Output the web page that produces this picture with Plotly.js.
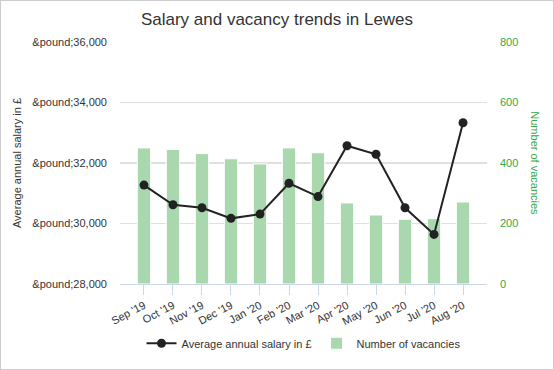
<!DOCTYPE html>
<html>
<head>
<meta charset="utf-8">
<script src="https://cdn.plot.ly/plotly-3.0.1.min.js"></script>
<style>
html,body{margin:0;padding:0;background:#fff;}
#chart{width:552px;height:368px;border:1px solid #cccccc;}
</style>
</head>
<body>
<div id="chart"></div>
<script>
const months = ["Sep '19","Oct '19","Nov '19","Dec '19","Jan '20","Feb '20","Mar '20","Apr '20","May '20","Jun '20","Jul '20","Aug '20"];
const salary = [31270, 30620, 30520, 30170, 30310, 31330, 30890, 32570, 32290, 30520, 29640, 33330];
const vacancies = [450, 445, 431, 414, 397, 450, 434, 268, 228, 214, 216, 271];
const salaryTickVals = [28000, 30000, 32000, 34000, 36000];
const salaryTickText = ["&amp;pound;28,000","&amp;pound;30,000","&amp;pound;32,000","&amp;pound;34,000","&amp;pound;36,000"];
const vacancyTickVals = [0, 200, 400, 600, 800];

const green = '#34a846';
const traces = [
  {
    type: 'bar', name: 'Number of vacancies', x: months, y: vacancies, yaxis: 'y',
    marker: {color: '#a9d8ae', line: {color: '#ffffff', width: 1}}
  },
  {
    type: 'scatter', mode: 'lines+markers', name: 'Average annual salary in £', x: months, y: salary, yaxis: 'y2',
    line: {color: '#222222', width: 2}, marker: {color: '#222222', size: 9}
  }
];
const layout = {
  width: 552, height: 368,
  margin: {l: 119, r: 66, t: 41, b: 85, autoexpand: false},
  paper_bgcolor: '#ffffff', plot_bgcolor: '#ffffff',
  font: {family: 'Liberation Sans, Arial, sans-serif', size: 11, color: '#333333'},
  title: {text: 'Salary and vacancy trends in Lewes', font: {size: 17, color: '#333333'}, x: 0.5, xanchor: 'center', y: 0.952, yanchor: 'middle'},
  showlegend: true,
  legend: {orientation: 'h', x: 0.5, xanchor: 'center', yref: 'container', y: 0.07, yanchor: 'middle', traceorder: 'reversed', font: {size: 11, color: '#333333'}},
  bargap: 0.54,
  xaxis: {
    type: 'category', showgrid: false, showline: true, linecolor: '#ccd6eb', linewidth: 1,
    ticks: 'outside', ticklen: 10, tickcolor: '#ccd6eb', tickangle: -28,
    tickfont: {size: 11, color: '#333333'}, zeroline: false
  },
  yaxis: {
    range: [0, 800], tickvals: vacancyTickVals, side: 'right',
    showgrid: true, gridcolor: '#e0e0e0', gridwidth: 1.5, zeroline: false, showline: false,
    ticklabelstandoff: 12, tickfont: {size: 11, color: green}
  },
  yaxis2: {
    range: [28000, 36000], tickvals: salaryTickVals, ticktext: salaryTickText, overlaying: 'y', side: 'left',
    showgrid: false, zeroline: false, showline: false,
    ticklabelstandoff: 12, tickfont: {size: 11, color: '#333333'},
    title: {text: 'Average annual salary in £', font: {size: 11, color: '#333333'}, standoff: 8}
  },
  annotations: [{
    text: 'Number of vacancies', xref: 'paper', yref: 'paper', x: 1.13, y: 0.5,
    xanchor: 'center', yanchor: 'middle', textangle: 90, showarrow: false,
    font: {size: 11, color: green}
  }]
};
Plotly.newPlot('chart', traces, layout, {displayModeBar: false, staticPlot: true});
</script>
</body>
</html>
